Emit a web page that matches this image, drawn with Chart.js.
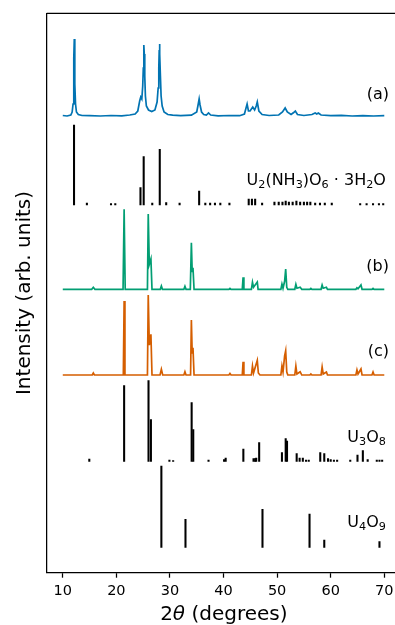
<!DOCTYPE html>
<html>
<head>
<meta charset="utf-8">
<script src="https://cdn.jsdelivr.net/npm/chart.js@4"></script>
<style>
  body { margin: 0; background: #fff; overflow: hidden; }
  canvas { display: block; }
</style>
</head>
<body>
<canvas id="xrd" width="395" height="625"></canvas>
<script>
// 2theta tick labels
const xTicks = [10, 20, 30, 40, 50, 60, 70];

// vertical offset of each pattern (arb. units)
const offsets = { a: 456.7, u2: 367.7, b: 283.4, c: 197.7, u3o8: 111.2, u4o9: 25.4 };

// (a) measured pattern: [2theta, intensity]
const patternA = [
  [10.0, 0.5], [10.8, 0], [11.5, 1], [11.75, 4], [11.92, 12], [12.02, 32], [12.09, 58], [12.15, 77],
  [12.21, 58], [12.28, 32], [12.38, 12], [12.55, 4], [12.9, 1.5], [13.6, 0.5], [15.0, 0.3], [17.0, 0],
  [19.0, 0.5], [21.0, 0.2], [22.5, 1], [23.5, 2], [24.0, 5], [24.35, 15], [24.55, 19], [24.75, 17],
  [24.92, 30], [25.03, 48], [25.1, 66], [25.15, 71], [25.21, 62], [25.3, 40], [25.42, 20], [25.6, 10],
  [26.0, 6], [26.6, 4.5], [27.2, 6], [27.6, 14], [27.8, 28], [27.92, 48], [28.0, 66], [28.05, 72],
  [28.12, 62], [28.22, 40], [28.35, 20], [28.55, 10], [28.9, 4], [29.6, 1.5], [30.5, 0.8], [32.0, 0.3],
  [34.0, 0.8], [35.0, 4], [35.25, 11], [35.45, 17], [35.62, 11], [35.9, 4], [36.3, 1.5], [36.8, 1],
  [37.2, 3], [37.6, 1], [39.0, 0.2], [41.0, 0.5], [43.0, 0.3], [43.9, 2], [44.2, 8], [44.4, 12],
  [44.65, 5], [44.95, 5], [45.45, 9], [45.8, 6], [46.1, 10], [46.3, 14], [46.6, 5], [47.2, 1.5],
  [48.5, 0.5], [50.3, 1], [51.0, 4], [51.5, 8], [51.9, 4], [52.6, 1.5], [53.1, 3.5], [53.4, 5],
  [53.8, 1.5], [55.0, 0.5], [56.5, 1.5], [57.1, 3], [57.4, 2], [57.7, 3], [58.2, 1], [60.0, 0.3],
  [62.0, 0.6], [64.0, 0], [66.0, 0.4], [68.0, 0], [70.0, 0.3]
];

// (b) measured pattern
const patternB = [
  [10.0, 0], [15.4, 0], [15.7, 2], [16.0, 0], [21.25, 0], [21.45, 80], [21.65, 0],
  [25.8, 0], [25.95, 75.3], [26.15, 25], [26.45, 30.3], [26.65, 0], [28.2, 0], [28.4, 3.3], [28.6, 0],
  [32.6, 0], [32.8, 3], [33.0, 0], [33.8, 0], [34.0, 46.6], [34.15, 18], [34.3, 21.6], [34.5, 0],
  [41.0, 0], [41.2, 1], [41.4, 0], [43.5, 0], [43.65, 12], [43.8, 0], [45.2, 0], [45.4, 7], [45.6, 2],
  [46.3, 7.3], [46.45, 0], [50.7, 0], [50.9, 5.3], [51.1, 1], [51.4, 8], [51.6, 20.3], [51.8, 2],
  [52.0, 0], [53.3, 0], [53.5, 5], [53.7, 1], [54.3, 2], [54.6, 0], [56.1, 0], [56.3, 1], [56.5, 0],
  [58.2, 0], [58.4, 4.3], [58.6, 1], [59.2, 2], [59.4, 0], [64.7, 0], [64.9, 1.5], [65.1, 0.5],
  [65.65, 4.3], [65.85, 0], [67.7, 0], [67.9, 1], [68.1, 0], [70.0, 0]
];

// (c) measured pattern
const patternC = [
  [10.0, 0], [15.5, 0], [15.7, 2], [15.9, 0], [21.3, 0], [21.45, 74], [21.6, 0],
  [25.8, 0], [25.95, 80], [26.15, 30], [26.45, 40.7], [26.65, 0], [28.15, 0], [28.4, 5.7], [28.65, 0],
  [32.6, 0], [32.8, 3.3], [33.0, 0], [33.85, 0], [34.0, 55], [34.15, 22], [34.3, 27.3], [34.5, 0],
  [41.0, 0], [41.2, 1.5], [41.4, 0], [43.5, 0], [43.65, 13.3], [43.8, 0], [45.2, 0], [45.4, 9], [45.6, 2],
  [46.3, 14.7], [46.5, 2], [46.8, 0], [50.7, 0], [50.9, 9], [51.1, 3], [51.4, 19], [51.6, 24.3], [51.8, 3],
  [52.0, 0], [53.3, 0], [53.5, 9], [53.7, 1], [54.3, 3.3], [54.6, 0], [56.1, 0], [56.3, 1], [56.5, 0],
  [58.2, 0], [58.4, 8], [58.6, 1], [59.2, 3], [59.4, 0], [64.7, 0], [64.9, 5], [65.1, 1],
  [65.65, 6], [65.85, 0], [67.7, 0], [67.9, 3], [68.1, 0], [70.0, 0]
];

// reference stick patterns: [2theta, intensity]
const refU2 = [
  [12.1, 80], [14.5, 2], [19.0, 1.5], [19.8, 1.5], [24.5, 17.3], [25.1, 48.3], [26.7, 2], [28.1, 55.7],
  [29.3, 2.5], [31.8, 2], [35.45, 14], [36.6, 2], [37.5, 2], [38.4, 2], [39.4, 2], [41.1, 2],
  [44.7, 6], [45.3, 6], [45.9, 6], [47.2, 2], [49.5, 3], [50.3, 3], [51.0, 3], [51.6, 4], [52.2, 3],
  [52.9, 3], [53.6, 4], [54.3, 3], [55.0, 3], [55.6, 3], [56.2, 3], [57.1, 2], [58.0, 2], [58.9, 2],
  [60.2, 2], [65.5, 1.5], [66.7, 1.5], [67.9, 1.5], [69.0, 1.5], [69.8, 1.5]
];
const refU3O8 = [
  [14.95, 2.5], [21.45, 76], [26.0, 81], [26.45, 42], [29.9, 1.5], [30.6, 1], [34.05, 59], [34.35, 32],
  [37.2, 1.5], [40.1, 2], [40.4, 3.5], [43.7, 12.5], [45.6, 3], [45.9, 3], [46.1, 3.5], [46.65, 19],
  [50.9, 9], [51.6, 23], [51.85, 20.5], [53.65, 8], [54.2, 3.5], [54.8, 3.5], [55.4, 1.5], [55.9, 1.5],
  [58.05, 9], [58.8, 8], [59.5, 3], [60.0, 2], [60.6, 1.5], [61.2, 1.5], [63.65, 1.5], [65.0, 6.5],
  [66.0, 11], [66.9, 2], [68.6, 1.5], [69.1, 1.5], [69.6, 1.5]
];
const refU4O9 = [
  [28.4, 81.3], [32.9, 28], [47.27, 38], [56.05, 33.3], [58.8, 7.3], [69.1, 5.6]
];

const colors = { a: '#0173b2', b: '#029e73', c: '#d55e00', sticks: '#000000' };

function curve(points, offset, color) {
  return {
    type: 'line',
    data: points.map(p => ({ x: p[0], y: offset + p[1] })),
    borderColor: color,
    borderWidth: 1.7,
    pointRadius: 0,
    tension: 0,
    fill: false
  };
}

function sticks(points, offset) {
  return {
    type: 'bar',
    stack: 'ref',
    data: points.map(p => ({ x: p[0], y: [offset, offset + p[1]] })),
    backgroundColor: colors.sticks,
    borderWidth: 0,
    barThickness: 1.4
  };
}

// labels on the right, with subscripts
const labels = [
  { parts: [['(a)']], x: 70.88, y: 474.2 },
  { parts: [['U'], ['2', 1], ['(NH'], ['3', 1], [')O'], ['6', 1], [' \u00b7 3H'], ['2', 1], ['O']], x: 70.3, y: 387.7 },
  { parts: [['(b)']], x: 70.88, y: 301.7 },
  { parts: [['(c)']], x: 70.88, y: 216.7 },
  { parts: [['U'], ['3', 1], ['O'], ['8', 1]], x: 70.3, y: 131.2 },
  { parts: [['U'], ['4', 1], ['O'], ['9', 1]], x: 70.3, y: 46.2 }
];

const extras = {
  id: 'extras',
  afterDraw(chart) {
    const { ctx, chartArea: area, scales } = chart;
    ctx.save();
    // top spine
    ctx.strokeStyle = '#000';
    ctx.lineWidth = 1.25;
    ctx.beginPath();
    ctx.moveTo(area.left, area.top);
    ctx.lineTo(area.right, area.top);
    ctx.stroke();

    ctx.fillStyle = '#000';
    ctx.textBaseline = 'alphabetic';
    ctx.textAlign = 'left';
    const main = '16px "DejaVu Sans"';
    const sub = '11.2px "DejaVu Sans"';
    labels.forEach(l => {
      let total = 0;
      l.parts.forEach(p => { ctx.font = p[1] ? sub : main; total += ctx.measureText(p[0]).width; });
      let px = scales.x.getPixelForValue(l.x) - total;
      const py = scales.y.getPixelForValue(l.y);
      l.parts.forEach(p => {
        ctx.font = p[1] ? sub : main;
        ctx.fillText(p[0], px, py + (p[1] ? 3.4 : 0));
        px += ctx.measureText(p[0]).width;
      });
    });

    // x axis title with italic theta
    const tparts = [['2', '20px "DejaVu Sans"'], ['\u03b8', 'italic 20px "DejaVu Sans"'], [' (degrees)', '20px "DejaVu Sans"']];
    let tw = 0;
    tparts.forEach(p => { ctx.font = p[1]; tw += ctx.measureText(p[0]).width; });
    let tx = (area.left + area.right) / 2 + 3 - tw / 2;
    tparts.forEach(p => {
      ctx.font = p[1];
      ctx.fillText(p[0], tx, 619.5);
      tx += ctx.measureText(p[0]).width;
    });
    ctx.restore();
  }
};

new Chart(document.getElementById('xrd'), {
  type: 'line',
  data: {
    datasets: [
      curve(patternA, offsets.a, colors.a),
      sticks(refU2, offsets.u2),
      curve(patternB, offsets.b, colors.b),
      curve(patternC, offsets.c, colors.c),
      sticks(refU3O8, offsets.u3o8),
      sticks(refU4O9, offsets.u4o9)
    ]
  },
  options: {
    responsive: false,
    animation: false,
    layout: { padding: { top: 13.3, right: 0, left: 0, bottom: 0 } },
    plugins: { legend: { display: false }, tooltip: { enabled: false } },
    scales: {
      x: {
        type: 'linear',
        min: 7,
        max: 72,
        offset: false,
        grid: { display: true, drawOnChartArea: false, drawTicks: true, tickLength: 5, tickColor: '#000', tickWidth: 1.25, offset: false },
        border: { display: true, color: '#000', width: 1.25 },
        ticks: { color: '#000', font: { family: 'DejaVu Sans', size: 14.5 }, padding: 5, maxRotation: 0, autoSkip: false },
        afterBuildTicks: s => { s.ticks = xTicks.map(v => ({ value: v })); },
        afterFit: s => { s.height = 52.3; s.paddingLeft = 0; s.paddingRight = 0; }
      },
      y: {
        min: 0,
        max: 559.4,
        stacked: false,
        ticks: { display: false },
        grid: { display: false },
        border: { display: true, color: '#000', width: 1.25 },
        title: {
          display: true,
          text: 'Intensity (arb. units)',
          color: '#000',
          font: { family: 'DejaVu Sans', size: 20 },
          padding: { top: 13, bottom: 0 }
        },
        afterFit: s => { s.width = 46.7; }
      }
    }
  },
  plugins: [extras]
});
</script>
</body>
</html>
